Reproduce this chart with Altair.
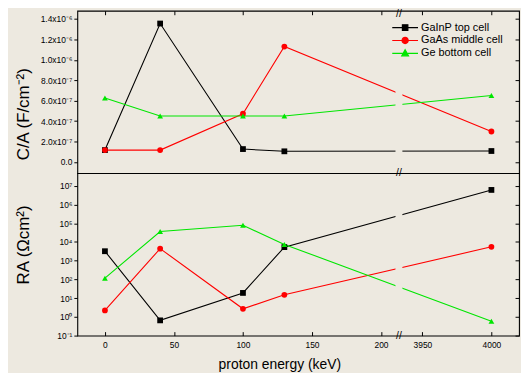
import json
import math
import altair as alt
import pandas as pd

# ---------------- data ----------------
series = ["GaInP top cell", "GaAs middle cell", "Ge bottom cell"]
energy = [0, 40, 100, 130, 4000]

ca_gainp = [1.16e-7, 1.355e-6, 1.26e-7, 1.04e-7, 1.07e-7]
ca_gaas = [1.16e-7, 1.16e-7, 4.72e-7, 1.13e-6, 2.98e-7]
ca_ge = [6.25e-7, 4.50e-7, 4.50e-7, 4.50e-7, 6.50e-7]

ra_gainp = [3.2e3, 0.65, 19.0, 5.3e3, 6.0e6]
ra_gaas = [2.2, 4.4e3, 2.7, 15.0, 5.5e3]
ra_ge = [117.0, 3.6e4, 7.8e4, 7.4e3, 0.58]

x_tick_energy = [0, 50, 100, 150, 200, 3950, 4000]
x_tick_labels = ["0", "50", "100", "150", "200", "3950", "4000"]

ca_tick_values = [0, 2e-7, 4e-7, 6e-7, 8e-7, 1.0e-6, 1.2e-6, 1.4e-6]
ca_tick_labels = ["0.0", "2.0x10⁻⁷", "4.0x10⁻⁷", "6.0x10⁻⁷", "8.0x10⁻⁷",
                  "1.0x10⁻⁶", "1.2x10⁻⁶", "1.4x10⁻⁶"]

ra_tick_values = [1e-1, 1e0, 1e1, 1e2, 1e3, 1e4, 1e5, 1e6, 1e7]
ra_tick_labels = ["10⁻¹", "10⁰", "10¹", "10²", "10³", "10⁴", "10⁵", "10⁶", "10⁷"]

# ---------------- broken axis setup ----------------
BREAK_LIMIT = 1000      # energies above this sit right of the axis break
BREAK_SHIFT = 3720      # compression applied to the right-hand segment
X_DOMAIN = [-20, 300]
GAP = [210.5, 215.5]
BREAK_AT = 213
T_EXPR = f"datum.energy < {BREAK_LIMIT} ? datum.energy : datum.energy - {BREAK_SHIFT}"
x_tick_pos = [e if e < BREAK_LIMIT else e - BREAK_SHIFT for e in x_tick_energy]

# ---------------- styles ----------------
FONT = "Liberation Sans"
BG = "#ede9e0"
colors = ["#000000", "#ff0000", "#00e600"]
shapes = ["square", "circle", "triangle-up"]

# legend glyphs: a line with the marker in its middle (unit = sqrt(size)/2 px)
LC = -1.6   # marker centre along the legend line
LINE = "M-4.2,0L1.0,0"
_circ = "".join(
    ("M" if k == 0 else "L") + f"{LC + 0.62 * math.cos(k * math.pi / 8):.3f},"
    f"{0.62 * math.sin(k * math.pi / 8):.3f}" for k in range(16)) + "Z"
legend_paths = [
    LINE + f"M{LC - 0.55},-0.55L{LC + 0.55},-0.55L{LC + 0.55},0.55L{LC - 0.55},0.55Z",
    LINE + _circ,
    LINE + f"M{LC},-0.72L{LC + 0.68},0.5L{LC - 0.68},0.5Z",
]
W = 446
H1 = 164
H2 = 164


def long_df(vals_list):
    rows = []
    for s, vals in zip(series, vals_list):
        for e, v in zip(energy, vals):
            rows.append({"series": s, "energy": e, "value": v})
    return pd.DataFrame(rows)


def lbl_expr(values, labels):
    return (f"{json.dumps(labels, ensure_ascii=False)}"
            f"[indexof({json.dumps(values)}, datum.value)]")


COLOR_EXPR = (f"{json.dumps(colors)}"
              f"[indexof({json.dumps(series)}, datum.series)]")

gap_df = pd.DataFrame({"g0": [GAP[0]], "g1": [GAP[1]]})
brk_df = pd.DataFrame({"b": [BREAK_AT]})


def panel(df, y_scale, y_title, y_values, y_labels, H, title_y, bottom, legend):
    base = alt.Chart(df).transform_calculate(t=T_EXPR)
    xs = alt.Scale(domain=X_DOMAIN, nice=False, zero=False)
    if bottom:
        x_axis = alt.Axis(orient="bottom", values=x_tick_pos,
                          labelExpr=lbl_expr(x_tick_pos, x_tick_labels),
                          offset=-4, tickSize=4, domain=False, grid=False,
                          labelFontSize=8.5, labelPadding=5, labelFlush=False,
                          title="proton energy (keV)", titleFontSize=14,
                          titleFontWeight="normal", titleX=204, titlePadding=9,
                          zindex=1)
    else:
        x_axis = alt.Axis(orient="top", values=x_tick_pos, labels=False,
                          offset=-4, tickSize=4, domain=False, grid=False,
                          title=None, zindex=1)
    y_left = alt.Axis(orient="left", values=y_values,
                      labelExpr=lbl_expr(y_values, y_labels),
                      tickSize=3.5, domain=False, grid=False,
                      labelFontSize=8.5, labelPadding=2,
                      title=y_title, titleFontSize=17, titleFontWeight="normal",
                      titleX=-45, titleY=title_y, zindex=1)
    y_right = alt.Axis(orient="right", values=y_values, labels=False,
                       offset=-4, tickSize=4, domain=False, grid=False,
                       title=None, zindex=1)

    lines = base.transform_calculate(clr=COLOR_EXPR).mark_line(strokeWidth=1.1).encode(
        x=alt.X("t:Q", scale=xs, axis=x_axis),
        y=alt.Y("value:Q", scale=y_scale, axis=y_left),
        color=alt.Color("clr:N", scale=None),
        detail="series:N",
    )
    gap = alt.Chart(gap_df).mark_rect(color=BG).encode(
        x=alt.X("g0:Q", axis=x_axis), x2="g1:Q",
        y=alt.value(1.5), y2=alt.value(H - 1.5),
    )
    pts = []
    for i, (s, c, shp) in enumerate(zip(series, colors, shapes)):
        pts.append(
            base.transform_filter(alt.datum.series == s)
            .mark_point(filled=True, shape=shp, size=34, color=c, opacity=1)
            .encode(x=alt.X("t:Q", axis=x_axis),
                    y=alt.Y("value:Q", axis=y_right if i == 0 else None))
        )
    layers = [lines, gap] + pts
    brk_y = [0, H] if bottom else [3]
    for yy in brk_y:
        layers.append(alt.Chart(brk_df).mark_text(text="//", fontSize=10.5, font=FONT,
                                                  baseline="middle").encode(
            x=alt.X("b:Q", axis=x_axis), y=alt.value(yy)))
    if legend:
        leg_cfg = alt.Legend(title=None, orient="none", legendX=333, legendY=11,
                             symbolSize=100, symbolStrokeWidth=1.2, symbolOpacity=1,
                             labelFontSize=11, labelFont=FONT, labelColor="black",
                             labelOffset=2, rowPadding=1, padding=0)
        leg = (alt.Chart(pd.DataFrame({"series": series}))
               .mark_point(filled=True, opacity=0, strokeWidth=1.2)
               .encode(
                   fill=alt.Fill("series:N", scale=alt.Scale(domain=series, range=colors),
                                 legend=leg_cfg),
                   stroke=alt.Stroke("series:N", scale=alt.Scale(domain=series, range=colors),
                                     legend=leg_cfg),
                   shape=alt.Shape("series:N", scale=alt.Scale(domain=series, range=legend_paths),
                                   legend=leg_cfg),
               ))
        layers.append(leg)
    return alt.layer(*layers).properties(width=W, height=H)


top = panel(long_df([ca_gainp, ca_gaas, ca_ge]),
            alt.Scale(domain=[-1.1e-7, 1.48e-6], nice=False, zero=False),
            "C/A (F/cm⁻²)", ca_tick_values, ca_tick_labels, H1, 104, False, True)
bot = panel(long_df([ra_gainp, ra_gaas, ra_ge]),
            alt.Scale(type="log", domain=[0.1, 4.7e7], nice=False),
            "RA (Ωcm²)", ra_tick_values, ra_tick_labels, H2, 72, True, False)

chart = (
    alt.vconcat(top, bot, spacing=0, bounds="flush")
    .resolve_scale(fill="independent", stroke="independent", shape="independent")
    .properties(padding={"left": 6, "top": -2, "right": 0, "bottom": 0}, background=BG)
    .configure(font=FONT)
    .configure_view(stroke="black", strokeWidth=1.1)
    .configure_axis(labelFont=FONT, titleFont=FONT, labelColor="black",
                    titleColor="black", tickColor="black", tickWidth=1)
)

chart.save("out.html", embed_options={"renderer": "svg", "actions": False})
